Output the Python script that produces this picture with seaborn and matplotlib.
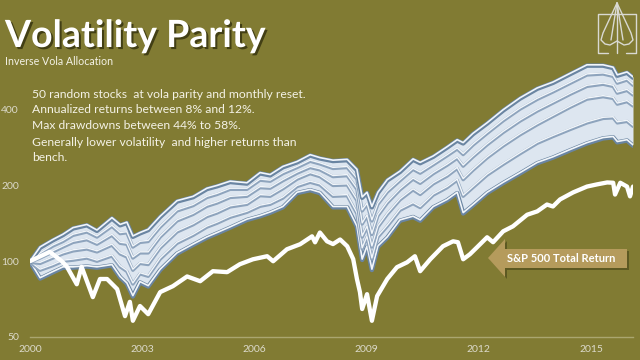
import matplotlib
matplotlib.use("Agg")
import numpy as np
import pandas as pd
import matplotlib.pyplot as plt
import matplotlib.patheffects as pe
from matplotlib.patches import Polygon
from matplotlib.lines import Line2D
from matplotlib.ticker import NullLocator, FixedLocator
import seaborn as sns

# ---------------- data ----------------
band_years = [2000.00, 2000.27, 2000.61, 2000.88, 2001.15, 2001.52, 2001.79, 2002.19,
              2002.41, 2002.59, 2002.75, 2002.94, 2003.16, 2003.48, 2003.93, 2004.36,
              2004.73, 2005.00, 2005.35, 2005.80, 2006.15, 2006.42, 2006.76, 2007.14,
              2007.49, 2007.75, 2008.10, 2008.48, 2008.74, 2008.88, 2009.01, 2009.14,
              2009.30, 2009.55, 2009.89, 2010.24, 2010.43, 2010.78, 2011.15, 2011.42,
              2011.58, 2011.84, 2012.22, 2012.65, 2013.10, 2013.56, 2013.98, 2014.44,
              2014.89, 2015.32, 2015.59, 2015.70, 2015.96, 2016.12]
band_top = [100, 114, 122, 128, 136, 140, 133, 149, 140, 143, 126, 130, 134, 151, 174, 181,
            195, 200, 208, 205, 225, 221, 238, 249, 265, 258, 252, 254, 232, 180, 188, 165,
            188, 211, 228, 255, 247, 262, 285, 304, 296, 322, 355, 400, 446, 488, 515, 558,
            603, 603, 590, 550, 565, 540]
band_2 = [100, 108, 116, 121, 128, 132, 126, 139, 130, 131, 115, 120, 121, 138, 160, 168,
          181, 186, 195, 195, 212, 210, 225, 238, 252, 246, 236, 238, 214, 160, 170, 146,
          170, 190, 211, 234, 226, 244, 265, 282, 268, 292, 325, 365, 406, 444, 475, 514,
          555, 560, 548, 515, 530, 505]
band_3 = [100, 104, 110, 115, 120, 123, 118, 128, 119, 118, 104, 109, 109, 126, 146, 155,
          167, 172, 181, 183, 198, 197, 211, 226, 238, 233, 219, 221, 195, 142, 153, 129,
          153, 172, 194, 214, 206, 225, 243, 259, 241, 262, 293, 328, 364, 399, 429, 465,
          500, 510, 500, 470, 482, 462]
band_4 = [100, 99, 104, 108, 111, 113, 110, 117, 108, 105, 93, 99, 98, 114, 132, 141,
          152, 157, 166, 170, 184, 183, 196, 214, 225, 219, 202, 203, 176, 126, 138, 115,
          138, 155, 177, 194, 186, 205, 220, 236, 213, 232, 260, 290, 321, 352, 380, 413,
          445, 455, 448, 425, 435, 418]
band_5 = [100, 93, 97, 101, 102, 104, 101, 106, 96, 92, 82, 90, 88, 103, 119, 128,
          138, 143, 151, 158, 167, 170, 180, 200, 208, 203, 183, 184, 156, 113, 126, 103,
          126, 139, 161, 171, 165, 185, 198, 212, 183, 198, 222, 245, 270, 297, 316, 337,
          358, 373, 375, 358, 363, 347]
band_bottom = [100, 86, 91, 95, 95, 96, 95, 97, 87, 82, 73, 83, 80, 93, 108, 117,
               125, 130, 137, 147, 152, 157, 165, 188, 193, 188, 165, 165, 138, 102, 115, 93,
               115, 125, 146, 151, 146, 165, 176, 188, 156, 168, 188, 206, 225, 247, 260, 278,
               296, 310, 313, 299, 304, 290]

spx_years = [2000.00, 2000.18, 2000.53, 2000.85, 2000.98, 2001.25, 2001.38, 2001.68, 2001.87,
             2002.06, 2002.33, 2002.54, 2002.67, 2002.75, 2002.94, 2003.16, 2003.48, 2003.82,
             2004.20, 2004.55, 2004.89, 2005.27, 2005.61, 2005.96, 2006.34, 2006.50, 2006.87,
             2007.22, 2007.54, 2007.62, 2007.75, 2007.94, 2008.10, 2008.29, 2008.48, 2008.64,
             2008.74, 2008.82, 2008.88, 2009.01, 2009.14, 2009.28, 2009.55, 2009.81, 2010.08,
             2010.29, 2010.43, 2010.70, 2011.04, 2011.31, 2011.44, 2011.58, 2011.76, 2011.95,
             2012.22, 2012.38, 2012.65, 2012.91, 2013.29, 2013.56, 2013.82, 2013.98, 2014.17,
             2014.52, 2014.89, 2015.16, 2015.43, 2015.59, 2015.64, 2015.78, 2015.96, 2016.04,
             2016.12]
spx_values = [100, 103, 109, 100, 95.5, 81, 95, 72, 85, 85, 77.5, 60.5, 69, 58, 66.4, 61.6,
              75.4, 79.6, 87, 83.3, 91.3, 90.5, 97.3, 101.8, 104.7, 100, 111.6, 116.8, 125.6,
              118.9, 130, 120, 117, 122, 114.7, 102, 85, 75.4, 64.6, 74, 58, 72.7, 85, 94.7,
              99, 104.7, 91.3, 101.8, 114.7, 120, 119, 101.8, 106.6, 113.6, 124.5, 119, 131.5,
              137.6, 153, 157.8, 168, 165, 176, 187.7, 198, 202, 205.6, 205, 184, 205, 198,
              181, 198]

x_ticks = [2000, 2003, 2006, 2009, 2012, 2015]
x_tick_labels = ["2000", "2003", "2006", "2009", "2012", "2015"]
y_ticks = [50, 100, 200, 400]
y_tick_labels = ["50", "100", "200", "400"]

title = "Volatility Parity"
subtitle = "Inverse Vola Allocation"
notes = ["50 random stocks  at vola parity and monthly reset.",
         "Annualized returns between 8% and 12%.",
         "Max drawdowns between 44% to 58%.",
         "Generally lower volatility  and higher returns than",
         "bench."]
arrow_label = "S&P 500 Total Return"

# ---------------- style ----------------
sns.set_theme(style="white")
plt.rcParams['font.family'] = ['Lato', 'DejaVu Sans']

BG = '#817b33'
TXT = '#f4f2e6'
TICK = '#dcdacb'

fig = plt.figure(figsize=(6.4, 3.6), dpi=100, facecolor=BG)
W, H = 640.0, 360.0
ax = fig.add_axes([30 / W, 23 / H, 603 / W, 337 / H])
ax.set_facecolor(BG)

# band fill
ax.fill_between(band_years, band_bottom, band_top, color='#dde6f0', lw=0, zorder=1)

band_df = pd.DataFrame({
    'year': band_years * 6,
    'value': band_bottom + band_5 + band_4 + band_3 + band_2 + band_top,
    'line': (['b0'] * len(band_years) + ['b1'] * len(band_years) + ['b2'] * len(band_years)
             + ['b3'] * len(band_years) + ['b4'] * len(band_years) + ['b5'] * len(band_years)),
})
edge_lines = {'b0', 'b5'}
for name, grp in band_df.groupby('line', sort=True):
    if name in edge_lines:
        effects = [pe.Stroke(linewidth=3.2, foreground='#6a85a2', offset=(0, -0.6)), pe.Normal()]
        lw = 1.2
    else:
        effects = [pe.Stroke(linewidth=2.4, foreground='#8ea4bd', offset=(0, -0.8)), pe.Normal()]
        lw = 1.0
    sns.lineplot(data=grp, x='year', y='value', ax=ax, color='#f2f6fa', lw=lw,
                 estimator=None, sort=False, zorder=2, path_effects=effects)

spx_df = pd.DataFrame({'year': spx_years, 'value': spx_values})
sns.lineplot(data=spx_df, x='year', y='value', ax=ax, color='white', lw=3.1,
             estimator=None, sort=False, zorder=3)

ax.set_yscale('log')
ax.set_xlim(2000, 2016.12)
ax.set_ylim(50, 1091)
ax.yaxis.set_major_locator(FixedLocator(y_ticks))
ax.yaxis.set_minor_locator(NullLocator())
ax.set_yticklabels(y_tick_labels)
ax.set_xticks(x_ticks)
ax.set_xticklabels(x_tick_labels)
ax.set_xlabel('')
ax.set_ylabel('')
ax.tick_params(axis='y', length=0, pad=8, labelsize=7.5, labelcolor=TICK)
ax.tick_params(axis='x', length=4, width=0.8, direction='in', color='#aaa670',
               pad=6, labelsize=7.5, labelcolor=TICK)
for s in ['top', 'right', 'left']:
    ax.spines[s].set_visible(False)
ax.spines['bottom'].set_color('#aaa670')
ax.spines['bottom'].set_linewidth(1.0)
ax.grid(False)
ax.legend_ = None


def fx(px):
    return px / W


def fy(py):
    return 1 - py / H


# title and texts
shadow = [pe.SimplePatchShadow(offset=(1.5, -1.5), shadow_rgbFace='#3c3912', alpha=0.9),
          pe.Normal()]
fig.text(fx(5), fy(47), title, color='white', fontsize=27, fontweight='bold',
         va='baseline', ha='left', path_effects=shadow)
fig.text(fx(5), fy(65), subtitle, color=TXT, fontsize=7.7, va='baseline', ha='left')
for i, line in enumerate(notes):
    fig.text(fx(32), fy([98, 113, 129, 146, 161][i]), line, color=TXT, fontsize=8.7,
             va='baseline', ha='left')

# arrow label
arrow_pts = [(488, 258), (505, 239), (505, 249), (627, 249), (627, 268), (505, 268), (505, 277)]
shadow_poly = Polygon([(fx(x + 2), fy(y + 2)) for x, y in arrow_pts], closed=True,
                      transform=fig.transFigure, facecolor='#4f4b1c', edgecolor='none',
                      alpha=0.7, zorder=4)
arrow_poly = Polygon([(fx(x), fy(y)) for x, y in arrow_pts], closed=True,
                     transform=fig.transFigure, facecolor='#b59b5c', edgecolor='none', zorder=5)
fig.patches.extend([shadow_poly, arrow_poly])
fig.text(fx(561), fy(258.5), arrow_label, color='white', fontsize=8, fontweight='bold',
         ha='center', va='center', zorder=6)

# logo
LOGO = '#d9d9d2'
logo_paths = [
    [(608, 53), (598, 53), (598, 14), (636, 14), (636, 53), (626, 53)],
    [(617, 3), (610, 18), (603, 33), (601, 40), (605, 44), (610, 45), (617, 41),
     (624, 45), (629, 44), (633, 40), (631, 33), (624, 18), (617, 3)],
    [(617, 3), (611, 40)],
    [(617, 3), (617, 53)],
    [(617, 3), (623, 40)],
]
for path in logo_paths:
    xs = [fx(p[0]) for p in path]
    ys = [fy(p[1]) for p in path]
    fig.add_artist(Line2D(xs, ys, transform=fig.transFigure, color=LOGO, lw=1.0))

fig.savefig('out.png', dpi=100, facecolor=BG)
